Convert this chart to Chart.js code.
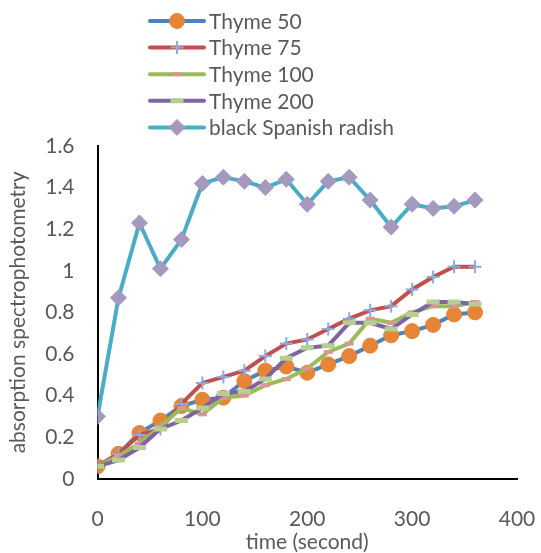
<!DOCTYPE html>
<html>
<head>
<meta charset="utf-8">
<script src="https://cdn.jsdelivr.net/npm/chart.js@4.4.0/dist/chart.umd.min.js"></script>
<style>
  html, body { margin: 0; padding: 0; background: #fff; }
  #wrap { width: 541px; height: 553px; position: relative; }
</style>
</head>
<body>
<div id="wrap"><canvas id="chart"></canvas></div>
<script>
// time points (seconds)
const times = [0, 20, 40, 60, 80, 100, 120, 140, 160, 180, 200, 220, 240, 260, 280, 300, 320, 340, 360];

// absorption readings per series
const thyme50 = [0.06, 0.12, 0.22, 0.28, 0.35, 0.38, 0.39, 0.47, 0.52, 0.54, 0.51, 0.55, 0.59, 0.64, 0.69, 0.71, 0.74, 0.79, 0.80];
const thyme75 = [0.06, 0.12, 0.21, 0.24, 0.36, 0.46, 0.49, 0.52, 0.59, 0.65, 0.67, 0.72, 0.77, 0.81, 0.83, 0.91, 0.97, 1.02, 1.02];
const thyme100 = [0.06, 0.11, 0.17, 0.25, 0.34, 0.31, 0.39, 0.40, 0.45, 0.48, 0.53, 0.61, 0.65, 0.77, 0.75, 0.80, 0.83, 0.83, 0.85];
const thyme200 = [0.06, 0.09, 0.15, 0.24, 0.28, 0.34, 0.41, 0.42, 0.48, 0.58, 0.63, 0.64, 0.75, 0.75, 0.72, 0.79, 0.85, 0.85, 0.84];
const radish = [0.30, 0.87, 1.23, 1.01, 1.15, 1.42, 1.45, 1.43, 1.40, 1.44, 1.32, 1.43, 1.45, 1.34, 1.21, 1.32, 1.30, 1.31, 1.34];

const seriesNames = ['Thyme 50', 'Thyme 75', 'Thyme 100', 'Thyme 200', 'black Spanish radish'];
const xTicks = [0, 100, 200, 300, 400];
const yTicks = [0, 0.2, 0.4, 0.6, 0.8, 1, 1.2, 1.4, 1.6];
const yTickLabels = ['0', '0.2', '0.4', '0.6', '0.8', '1', '1.2', '1.4', '1.6'];

const FONT = 'Lato, "Open Sans", sans-serif';
const FONT_SIZE = 21;
const TEXT = '#595959';

function pts(values) {
    return values.map((v, i) => ({ x: times[i], y: v }));
}

// line / marker look for each series (Excel style)
const styles = [
    { line: '#4F81BD', point: '#E58535', shape: 'circle', r: 7.5, bw: 1 },
    { line: '#C0504D', point: '#8EA9DB', shape: 'cross', r: 6.5, bw: 2 },
    { line: '#9BBB59', point: '#DA9694', shape: 'line', r: 4.5, bw: 4 },
    { line: '#8064A2', point: '#B7CE92', shape: 'line', r: 6.5, bw: 5 },
    { line: '#4BACC6', point: '#A699BF', shape: 'rectRot', r: 8, bw: 1 }
];

const allValues = [thyme50, thyme75, thyme100, thyme200, radish];

const datasets = allValues.map((vals, i) => ({
    label: seriesNames[i],
    data: pts(vals),
    borderColor: styles[i].line,
    borderWidth: 4,
    pointStyle: styles[i].shape,
    pointRadius: styles[i].r,
    pointBackgroundColor: styles[i].point,
    pointBorderColor: styles[i].point,
    pointBorderWidth: styles[i].bw,
    tension: 0,
    order: 5 - i // later series on top, like Excel
}));

// vertical legend drawn above the plot
const stackedLegend = {
    id: 'stackedLegend',
    afterDraw(chart) {
        const ctx = chart.ctx;
        const x0 = 150, x1 = 204, rowTop = 21, rowGap = 26.6;
        ctx.save();
        chart.data.datasets.forEach((ds, i) => {
            const y = rowTop + i * rowGap;
            ctx.strokeStyle = ds.borderColor;
            ctx.lineWidth = 4;
            ctx.lineCap = 'round';
            ctx.beginPath();
            ctx.moveTo(x0, y);
            ctx.lineTo(x1, y);
            ctx.stroke();
            ctx.lineCap = 'butt';
            ctx.fillStyle = ds.pointBackgroundColor;
            ctx.strokeStyle = ds.pointBorderColor;
            ctx.lineWidth = ds.pointBorderWidth;
            Chart.helpers.drawPoint(ctx, {
                pointStyle: ds.pointStyle,
                radius: ds.pointRadius,
                rotation: 0,
                borderWidth: ds.pointBorderWidth
            }, (x0 + x1) / 2, y);
            ctx.fillStyle = TEXT;
            ctx.font = FONT_SIZE + 'px ' + FONT;
            ctx.textBaseline = 'middle';
            ctx.textAlign = 'left';
            ctx.fillText(ds.label, 209, y + 1);
        });
        ctx.restore();
    }
};

new Chart(document.getElementById('chart').getContext('2d'), {
    type: 'line',
    data: { datasets: datasets },
    options: {
        responsive: true,
        maintainAspectRatio: false,
        animation: false,
        layout: { padding: { top: 146, right: 24, left: 6, bottom: 0 } },
        plugins: {
            legend: { display: false },
            tooltip: { enabled: false }
        },
        scales: {
            x: {
                type: 'linear',
                min: 0,
                max: 400,
                afterBuildTicks: axis => { axis.ticks = xTicks.map(v => ({ value: v })); },
                // invisible tick marks give the gap between axis line and labels
                grid: { display: false, drawTicks: true, tickLength: 28 },
                border: { color: '#000', width: 2 },
                ticks: { color: TEXT, font: { family: FONT, size: FONT_SIZE }, padding: 0, maxRotation: 0, minRotation: 0 },
                title: { display: true, text: 'time (second)', color: TEXT, font: { family: FONT, size: FONT_SIZE, lineHeight: 1.0 }, padding: { top: 0, bottom: 0 } }
            },
            y: {
                min: 0,
                max: 1.6,
                afterBuildTicks: axis => { axis.ticks = yTicks.map(v => ({ value: v })); },
                grid: { display: false, drawTicks: true, tickLength: 23 },
                border: { color: '#000', width: 2 },
                ticks: {
                    color: TEXT,
                    font: { family: FONT, size: FONT_SIZE },
                    padding: 0,
                    callback: (value, index) => yTickLabels[index]
                },
                title: { display: true, text: 'absorption spectrophotometry', color: TEXT, font: { family: FONT, size: FONT_SIZE }, padding: { top: 0, bottom: 14 } }
            }
        }
    },
    plugins: [stackedLegend]
});
</script>
</body>
</html>
